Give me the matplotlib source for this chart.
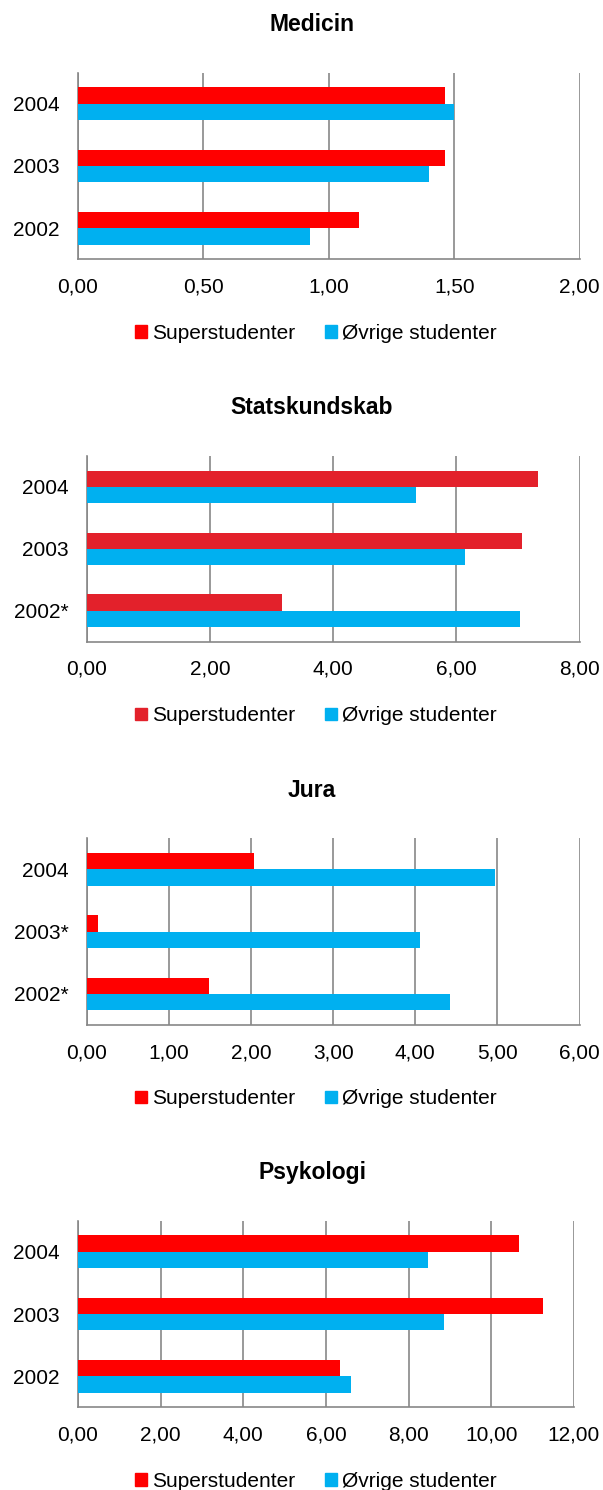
import matplotlib
matplotlib.use("Agg")
import matplotlib.pyplot as plt
from matplotlib.patches import Patch
from matplotlib.ticker import FuncFormatter
import numpy as np

plt.rcParams['font.family'] = ['Liberation Sans', 'DejaVu Sans']

# data
titles = ['Medicin', 'Statskundskab', 'Jura', 'Psykologi']
years_med = ['2002', '2003', '2004']
years_stat = ['2002*', '2003', '2004']
years_jura = ['2002*', '2003*', '2004']
years_psyk = ['2002', '2003', '2004']

super_med = [1.12, 1.465, 1.463]
ovrige_med = [0.925, 1.40, 1.50]

super_stat = [3.17, 7.06, 7.33]
ovrige_stat = [7.04, 6.14, 5.34]

super_jura = [1.49, 0.14, 2.04]
ovrige_jura = [4.42, 4.06, 4.97]

super_psyk = [6.34, 11.26, 10.68]
ovrige_psyk = [6.61, 8.86, 8.47]

series_names = ['Superstudenter', 'Øvrige studenter']

W, H = 603, 1490
RED = '#FF0000'
RED2 = '#E3212B'
BLUE = '#00B0F0'
GRID = '#878787'

fig = plt.figure(figsize=(W / 100, H / 100), dpi=100)


def panel(left, right, top, bottom, title, labels, sup, ovr, xmax, step, red):
    ax = fig.add_axes([left / W, 1 - bottom / H, (right - left) / W, (bottom - top) / H])
    y = np.arange(len(labels))
    h = 0.263
    ax.barh(y + h / 2, sup, height=h, color=red, zorder=3)
    ax.barh(y - h / 2, ovr, height=h, color=BLUE, zorder=3)
    ax.set_xlim(0, xmax)
    ax.set_ylim(-0.5, len(labels) - 0.5)
    ax.set_xticks(np.arange(0, xmax + step / 2, step))
    ax.xaxis.set_major_formatter(FuncFormatter(lambda v, p: f'{v:.2f}'.replace('.', ',')))
    ax.set_yticks(y)
    ax.set_yticklabels(labels)
    ax.tick_params(axis='both', length=0, labelsize=15)
    ax.tick_params(axis='x', pad=13)
    ax.tick_params(axis='y', pad=13)
    ax.grid(axis='x', color=GRID, linewidth=1.2, zorder=0)
    for s in ['top', 'right']:
        ax.spines[s].set_visible(False)
    for s in ['left', 'bottom']:
        ax.spines[s].set_color(GRID)
        ax.spines[s].set_linewidth(1.2)
    ax.set_axisbelow(True)
    # title and legend
    fig.text(312 / W, 1 - (top - 48) / H, title, ha='center', va='center',
             fontsize=16.5, fontweight='bold')
    handles = [Patch(color=red), Patch(color=BLUE)]
    fig.legend(handles, series_names, loc='center', ncol=2,
               bbox_to_anchor=(316 / W, 1 - (bottom + 74) / H),
               frameon=False, fontsize=15, handlelength=0.55, handleheight=0.55,
               handletextpad=0.25, columnspacing=1.45, borderpad=0)
    return ax


panel(78, 579.6, 72.7, 259.3, titles[0], years_med, super_med, ovrige_med, 2.0, 0.5, RED)
panel(86.9, 579.6, 456, 641.7, titles[1], years_stat, super_stat, ovrige_stat, 8.0, 2.0, RED2)
panel(86.9, 579.6, 838.3, 1025, titles[2], years_jura, super_jura, ovrige_jura, 6.0, 1.0, RED)
panel(78, 573.8, 1220.7, 1407.3, titles[3], years_psyk, super_psyk, ovrige_psyk, 12.0, 2.0, RED)

fig.savefig('out.png', dpi=100, facecolor='white')
